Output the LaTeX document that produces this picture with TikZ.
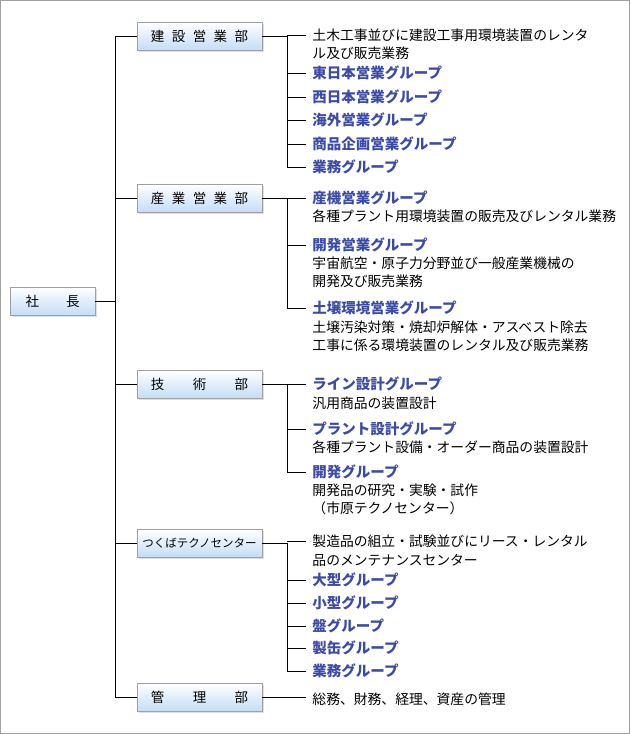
\documentclass[tikz,border=0pt]{standalone}
\usepackage{fontspec}
\setmainfont{Noto Sans CJK JP}
\usepackage{tikz}
\usetikzlibrary{calc, positioning, shadows}
\definecolor{grpblue}{RGB}{59,76,168}
\definecolor{boxblue}{RGB}{196,221,246}
\definecolor{frame}{RGB}{160,160,160}

\begin{document}
\begin{tikzpicture}[x=1pt, y=-1pt, line width=0.9pt,
		dept/.style={draw=frame, line width=0.6pt, top color=white, bottom color=boxblue, minimum width=125pt, minimum height=28pt, inner sep=0pt, font=\fontsize{13.5}{15}\selectfont, drop shadow={opacity=0.25, shadow xshift=1.5pt, shadow yshift=-1.5pt}},
		grp/.style={anchor=west, inner sep=0pt, text=grpblue, font=\fontsize{14.5}{16}\selectfont\bfseries},
		desc/.style={anchor=west, inner sep=0pt, font=\fontsize{13.8}{16}\selectfont}]
	\useasboundingbox (0,0) rectangle (630,734);
	\draw[frame, line width=1.2pt] (0.6,0.6) rectangle (629.4,733.4);
	% president and departments
	\node[dept, minimum width=85pt] (ceo) at (52.5,301) {社\hspace{2em}長};
	\node[dept] (kensetsu) at (199.5,36) {建\hspace{0.55em}設\hspace{0.55em}営\hspace{0.55em}業\hspace{0.55em}部};
	\node[dept] (sangyo) at (199.5,198) {産\hspace{0.55em}業\hspace{0.55em}営\hspace{0.55em}業\hspace{0.55em}部};
	\node[dept] (gijutsu) at (199.5,384) {技\hspace{2.1em}術\hspace{2.1em}部};
	\node[dept, font=\fontsize{11.5}{13}\selectfont] (tsukuba) at (199.5,543) {つくばテクノセンター};
	\node[dept] (kanri) at (199.5,697) {管\hspace{2.1em}理\hspace{2.1em}部};
	% trunk
	\coordinate (trunk) at (115,301);
	\draw (ceo.east) -- (trunk);
	\draw (trunk |- kensetsu.west) -- (trunk |- kanri.west);
	\foreach \d in {kensetsu, sangyo, gijutsu, tsukuba, kanri}
		\draw (trunk |- \d.west) -- (\d.west);
	% construction sales
	\node[desc] (k0) at (312,35) {土木工事並びに建設工事用環境装置のレンタ};
	\node[desc] (k0b) at (312,53) {ル及び販売業務};
	\node[grp] (k1) at (312,73) {東日本営業グループ};
	\node[grp] (k2) at (312,97) {西日本営業グループ};
	\node[grp] (k3) at (312,120) {海外営業グループ};
	\node[grp] (k4) at (312,144) {商品企画営業グループ};
	\node[grp] (k5) at (312,167) {業務グループ};
	% industrial sales
	\node[grp] (s1) at (312,198) {産機営業グループ};
	\node[desc] (s1a) at (312,216) {各種プラント用環境装置の販売及びレンタル業務};
	\node[grp] (s2) at (312,245) {開発営業グループ};
	\node[desc] (s2a) at (312,263) {宇宙航空・原子力分野並び一般産業機械の};
	\node[desc] (s2b) at (312,281) {開発及び販売業務};
	\node[grp] (s3) at (312,308) {土壌環境営業グループ};
	\node[desc] (s3a) at (312,327) {土壌汚染対策・焼却炉解体・アスベスト除去};
	\node[desc] (s3b) at (312,345) {工事に係る環境装置のレンタル及び販売業務};
	% engineering
	\node[grp] (g1) at (312,384) {ライン設計グループ};
	\node[desc] (g1a) at (312,403) {汎用商品の装置設計};
	\node[grp] (g2) at (312,429) {プラント設計グループ};
	\node[desc] (g2a) at (312,447) {各種プラント設備・オーダー商品の装置設計};
	\node[grp] (g3) at (312,472) {開発グループ};
	\node[desc] (g3a) at (312,490) {開発品の研究・実験・試作};
	\node[desc] (g3b) at (312,508) {（市原テクノセンター）};
	% tsukuba
	\node[desc] (t0) at (312,541) {製造品の組立・試験並びにリース・レンタル};
	\node[desc] (t0b) at (312,560) {品のメンテナンスセンター};
	\node[grp] (t1) at (312,580) {大型グループ};
	\node[grp] (t2) at (312,603) {小型グループ};
	\node[grp] (t3) at (312,626) {盤グループ};
	\node[grp] (t4) at (312,648) {製缶グループ};
	\node[grp] (t5) at (312,671) {業務グループ};
	% administration
	\node[desc] (m0) at (312,699) {総務、財務、経理、資産の管理};
	% branches
	\coordinate (sub) at (287,0);
	\draw (kensetsu.east) -- (sub |- kensetsu.east) -- (sub |- k5.west);
	\draw (sangyo.east) -- (sub |- sangyo.east) -- (sub |- s3.west);
	\draw (gijutsu.east) -- (sub |- gijutsu.east) -- (sub |- g3.west);
	\draw (tsukuba.east) -- (sub |- tsukuba.east) -- (sub |- t5.west);
	\draw (kanri.east) -- ([xshift=-6pt]m0.west |- kanri.east);
	\foreach \n in {k0, k1, k2, k3, k4, k5, s1, s2, s3, g1, g2, g3, t0, t1, t2, t3, t4, t5}
		\draw (sub |- \n.west) -- ([xshift=-6pt]\n.west);
\end{tikzpicture}
\end{document}
